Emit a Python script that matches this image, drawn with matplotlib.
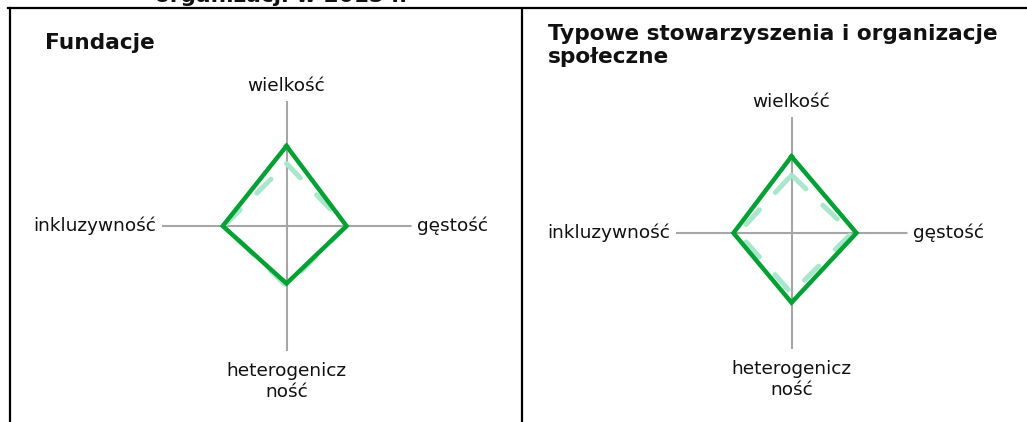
import numpy as np
import matplotlib
matplotlib.use("Agg")
import matplotlib.pyplot as plt
from matplotlib.lines import Line2D

W, H = 1027, 422
DPI = 100

categories = ["wielkość", "gęstość", "heterogenicz\nność", "inkluzywność"]
angles_deg = [0, 90, 180, 270]  # clockwise from north

fund_solid = [3.2, 2.4, 2.3, 2.55]
fund_dashed = [2.5, 2.4, 2.4, 2.5]
stow_solid = [3.3, 2.8, 3.0, 2.5]
stow_dashed = [2.5, 2.6, 2.6, 2.3]

panel_titles = ["Fundacje", "Typowe stowarzyszenia i organizacje\nspołeczne"]
top_fragment = "organizacji w 2015 r."

RMAX = 5.0
SOLID = "#00a332"
DASHED = "#a9e7cc"
GRAY = "#a6a6a6"
TXT = "#111111"

fig = plt.figure(figsize=(W / DPI, H / DPI), dpi=DPI)
fig.patch.set_facecolor("white")


def px_box(cx, cy, r):
    return [(cx - r) / W, 1 - (cy + r) / H, 2 * r / W, 2 * r / H]


def radar(box, solid, dashed, fs=13.3):
    ax = fig.add_axes(box, projection="polar")
    ax.set_theta_zero_location("N")
    ax.set_theta_direction(-1)
    ax.set_ylim(0, RMAX)
    ax.grid(False)
    ax.spines["polar"].set_visible(False)
    ax.set_xticks([])
    ax.set_yticks([])
    ax.patch.set_alpha(0)
    th = np.deg2rad(angles_deg)
    for t in th:
        ax.plot([t, t], [0, RMAX], color=GRAY, lw=1.5, zorder=1, solid_capstyle="butt")
    tc = np.append(th, th[0])
    ax.plot(tc, np.append(dashed, dashed[0]), color=DASHED, lw=3.6,
            dashes=(4.0, 4.7), dash_capstyle="round", zorder=2)
    ax.plot(tc, np.append(solid, solid[0]), color=SOLID, lw=3.2,
            solid_joinstyle="miter", zorder=3)
    specs = [
        (th[0], (0, 4), "center", "bottom"),
        (th[1], (4, 0), "left", "center"),
        (th[2], (0, -8), "center", "top"),
        (th[3], (-4, 0), "right", "center"),
    ]
    for (t, off, ha, va), lab in zip(specs, categories):
        ax.annotate(lab, xy=(t, RMAX), xytext=off, textcoords="offset points",
                    ha=ha, va=va, fontsize=fs, color=TXT,
                    multialignment="center", annotation_clip=False)
    return ax


radar(px_box(286.5, 226, 125), fund_solid, fund_dashed)
radar(px_box(791.5, 233, 116), stow_solid, stow_dashed)

# panel titles
TFS = 15.6
fig.text(45 / W, 1 - 49 / H, panel_titles[0], fontsize=TFS, fontweight="bold",
         ha="left", va="baseline", color=TXT)
for i, line in enumerate(panel_titles[1].split("\n")):
    fig.text(548 / W, 1 - (40 + 23 * i) / H, line, fontsize=TFS, fontweight="bold",
             ha="left", va="baseline", color=TXT)
fig.text(281 / W, 1 - 1.5 / H, top_fragment, fontsize=TFS, fontweight="bold",
         ha="center", va="baseline", color=TXT)


# table borders
def hline(x0, x1, y):
    fig.add_artist(Line2D([x0 / W, x1 / W], [1 - y / H, 1 - y / H], color="black", lw=1.6))


def vline(x, y0, y1):
    fig.add_artist(Line2D([x / W, x / W], [1 - y0 / H, 1 - y1 / H], color="black", lw=1.6))


hline(8, W, 8)
vline(9.5, 7.5, H)
vline(522, 10, H)

fig.savefig("out.png", dpi=DPI, facecolor="white")
